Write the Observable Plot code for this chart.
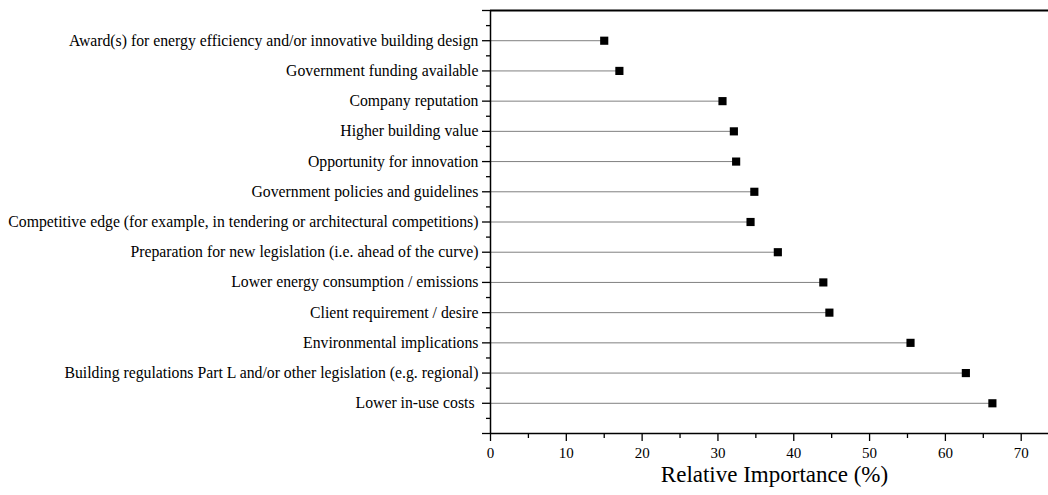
<!DOCTYPE html>
<html>
<head>
<meta charset="utf-8">
<script src="https://cdn.jsdelivr.net/npm/d3@7"></script>
<script src="https://cdn.jsdelivr.net/npm/@observablehq/plot@0.6"></script>
<style>
  html, body { margin: 0; padding: 0; background: #fff; }
  svg { display: block; }
</style>
</head>
<body>
<div id="chart"></div>
<script>
const categories = [
  "Award(s) for energy efficiency and/or innovative building design",
  "Government funding available",
  "Company reputation",
  "Higher building value",
  "Opportunity for innovation",
  "Government policies and guidelines",
  "Competitive edge (for example, in tendering or architectural competitions)",
  "Preparation for new legislation (i.e. ahead of the curve)",
  "Lower energy consumption / emissions",
  "Client requirement / desire",
  "Environmental implications",
  "Building regulations Part L and/or other legislation (e.g. regional)",
  "Lower in-use costs\u00a0"
];
const values = [15.0, 17.0, 30.6, 32.1, 32.4, 34.8, 34.3, 37.9, 43.9, 44.7, 55.4, 62.7, 66.2];
const xMajorTicks = [0, 10, 20, 30, 40, 50, 60, 70];
const xMinorTicks = [5, 15, 25, 35, 45, 55, 65];
const xTitle = "Relative Importance (%)";

const data = categories.map((c, i) => ({category: c, pos: i + 1, value: values[i]}));
const yMajor = d3.range(1, categories.length + 1);
const yMinor = d3.range(0.5, categories.length + 1, 1);
const yEnds = [0, categories.length + 1];
const serif = "'Liberation Serif', 'Times New Roman', Times, 'DejaVu Serif', serif";

const chart = Plot.plot({
  width: 1048,
  height: 495,
  marginLeft: 490,
  marginRight: 0,
  marginTop: 10,
  marginBottom: 62,
  style: {color: "#000", background: "#fff", fontFamily: serif},
  x: {domain: [0, 73.6], label: null},
  y: {type: "linear", domain: [0, categories.length + 1], reverse: true, label: null},
  marks: [
    Plot.ruleY(data, {y: "pos", x1: 0, x2: "value", stroke: "#808080", strokeWidth: 1}),
    Plot.dot(data, {x: "value", y: "pos", symbol: "square", r: 4.6, fill: "#000", stroke: "none"}),
    // y axis
    Plot.axisY({ticks: yMajor, tickSize: 8, tickPadding: 4, strokeWidth: 1.3, fontSize: 15.75, label: null, tickFormat: d => categories[d - 1]}),
    Plot.axisY({ticks: yMinor, tickSize: 4, strokeWidth: 1.3, label: null, tickFormat: () => ""}),
    Plot.axisY({ticks: yEnds, tickSize: 8, strokeWidth: 1.3, label: null, tickFormat: () => ""}),
    // x axis
    Plot.axisX({ticks: xMajorTicks, tickSize: 8, tickPadding: 6, strokeWidth: 1.3, fontSize: 15, label: null}),
    Plot.axisX({ticks: xMinorTicks, tickSize: 5, strokeWidth: 1.3, tickFormat: () => "", label: null}),
    // frame lines
    Plot.ruleX([0], {stroke: "#000", strokeWidth: 1.5}),
    Plot.ruleY([categories.length + 1], {stroke: "#000", strokeWidth: 1.5}),
    Plot.ruleY([0], {stroke: "#000", strokeWidth: 2}),
    Plot.text([xTitle], {frameAnchor: "bottom", dy: 48, dx: 5, fontSize: 23, fill: "#000"})
  ]
});
chart.querySelectorAll("text, g").forEach(el => el.style.setProperty("font-family", serif, "important"));
chart.style.setProperty("font-family", serif, "important");
document.getElementById("chart").appendChild(chart);
</script>
</body>
</html>
